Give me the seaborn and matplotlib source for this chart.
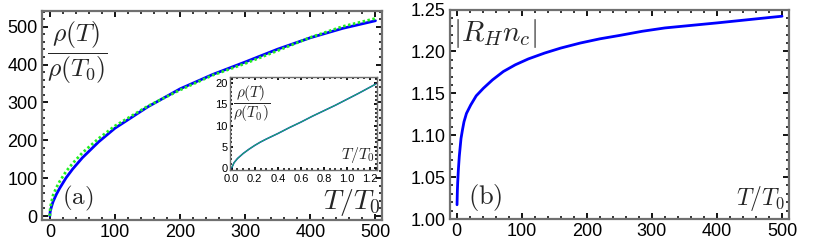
import numpy as np
import pandas as pd
import matplotlib
matplotlib.use("Agg")
import matplotlib.pyplot as plt
from matplotlib.ticker import MultipleLocator, FormatStrFormatter
import seaborn as sns

# ---------------- data ----------------
a_T = [0, 0.5, 1, 2, 3, 5, 10, 15, 25, 35, 50, 75, 100, 150, 200, 250, 300, 350, 400, 450, 500]
a_blue = [0, 11, 14, 21, 27, 38, 57, 73, 101, 124, 154, 196, 232, 288, 336, 374, 407, 441, 471, 496, 516]
a_green = [0, 17, 25, 33, 40, 55, 75, 91, 118, 139, 167, 205, 238, 290, 333, 372, 403, 437, 472, 501, 522]

in_T = [0, 0.02, 0.05, 0.1, 0.15, 0.2, 0.25, 0.3, 0.4, 0.5, 0.6, 0.7, 0.8, 0.9, 1.0, 1.1, 1.25]
in_rho = [0, 1.2, 2.2, 3.4, 4.4, 5.3, 6.1, 6.8, 8.1, 9.5, 10.8, 12.2, 13.5, 14.8, 16.2, 17.6, 19.8]

b_T = [0.5, 1, 1.5, 2.5, 4, 6.6, 9, 11.2, 15, 21.5, 30, 41, 55, 71.7, 90, 110, 135,
       160, 190, 220, 250, 285, 320, 360, 400, 450, 500]
b_RH = [1.017, 1.033, 1.043, 1.058, 1.075, 1.096, 1.107, 1.116, 1.126, 1.136, 1.147,
        1.156, 1.166, 1.176, 1.184, 1.191, 1.198, 1.204, 1.210, 1.215, 1.219, 1.224,
        1.228, 1.231, 1.234, 1.238, 1.242]

# ---------------- style ----------------
sns.set_style("white")
plt.rcParams["font.family"] = ["Liberation Sans", "DejaVu Sans"]
plt.rcParams["mathtext.fontset"] = "cm"

W, H = 814, 252
fig = plt.figure(figsize=(W / 100, H / 100), dpi=100)


def rect(l, r, t, b):
    return [l / W, 1 - b / H, (r - l) / W, (b - t) / H]


FRAME = "#707070"


def frame(ax, maj_x, min_x, maj_y, min_y, lsize, lw=1.6, major_len=4, minor_len=2.2):
    for s in ax.spines.values():
        s.set_visible(True)
        s.set_color(FRAME)
        s.set_linewidth(lw)
    ax.xaxis.set_major_locator(MultipleLocator(maj_x))
    ax.xaxis.set_minor_locator(MultipleLocator(min_x))
    ax.yaxis.set_major_locator(MultipleLocator(maj_y))
    ax.yaxis.set_minor_locator(MultipleLocator(min_y))
    ax.tick_params(which="both", direction="in", top=True, right=True,
                   bottom=True, left=True, colors="black", labelsize=lsize,
                   labelcolor="black")
    ax.tick_params(which="major", length=major_len, width=1.3, pad=3)
    ax.tick_params(which="minor", length=minor_len, width=1.1)
    ax.set_xlabel("")
    ax.set_ylabel("")
    ax.grid(False)


# ---------------- panel (a) ----------------
ax1 = fig.add_axes(rect(42, 382, 10.5, 220))
dfa = pd.DataFrame({"T": a_T, "blue": a_blue, "green": a_green})
sns.lineplot(data=dfa, x="T", y="blue", ax=ax1, color="#0000ff", lw=2.0)
sns.lineplot(data=dfa, x="T", y="green", ax=ax1, color="#22ee22", lw=2.0,
             linestyle=(0, (0.9, 0.9)))
ax1.set_xlim(-12, 510)
ax1.set_ylim(-10.5, 543)
frame(ax1, 100, 20, 100, 20, 13)

ax1.text(0.015, 0.955, r"$\dfrac{\rho(T)}{\rho(T_0)}$", transform=ax1.transAxes,
         ha="left", va="top", fontsize=18.5)
ax1.text(0.059, 0.035, r"$\mathrm{(a)}$", transform=ax1.transAxes,
         ha="left", va="bottom", fontsize=18)
ax1.text(0.994, 0.01, r"$T/T_0$", transform=ax1.transAxes,
         ha="right", va="bottom", fontsize=20)

# ---------------- inset ----------------
axi = fig.add_axes(rect(230, 376.7, 77.3, 169.5))
dfi = pd.DataFrame({"T": in_T, "rho": in_rho})
sns.lineplot(data=dfi, x="T", y="rho", ax=axi, color="#0000ff", lw=1.1)
sns.lineplot(data=dfi, x="T", y="rho", ax=axi, color="#22cc44", lw=0.8, alpha=0.9)
axi.set_xlim(-0.015, 1.258)
axi.set_ylim(-0.4, 21.4)
frame(axi, 0.2, 0.05, 5, 1, 8, lw=1.0, major_len=2.5, minor_len=1.5)
axi.tick_params(axis="y", which="major", pad=1.5)
axi.tick_params(axis="x", which="major", pad=3.0)
axi.set_facecolor("white")
axi.text(0.02, 0.94, r"$\dfrac{\rho(T)}{\rho(T_0)}$", transform=axi.transAxes,
         ha="left", va="top", fontsize=11)
axi.text(0.988, 0.05, r"$T/T_0$", transform=axi.transAxes,
         ha="right", va="bottom", fontsize=11.5)

# ---------------- panel (b) ----------------
ax2 = fig.add_axes(rect(450, 789, 9.5, 219))
dfb = pd.DataFrame({"T": b_T, "RH": b_RH})
sns.lineplot(data=dfb, x="T", y="RH", ax=ax2, color="#0000ff", lw=2.0)
ax2.set_xlim(-10.3, 510.7)
ax2.set_ylim(1.0, 1.25)
frame(ax2, 100, 20, 0.05, 0.01, 13)
ax2.yaxis.set_major_formatter(FormatStrFormatter("%.2f"))

ax2.text(0.008, 0.965, r"$|R_H n_c|$", transform=ax2.transAxes,
         ha="left", va="top", fontsize=21)
ax2.text(0.053, 0.029, r"$\mathrm{(b)}$", transform=ax2.transAxes,
         ha="left", va="bottom", fontsize=19)
ax2.text(0.988, 0.029, r"$T/T_0$", transform=ax2.transAxes,
         ha="right", va="bottom", fontsize=17)

fig.savefig("out.png", dpi=100)
